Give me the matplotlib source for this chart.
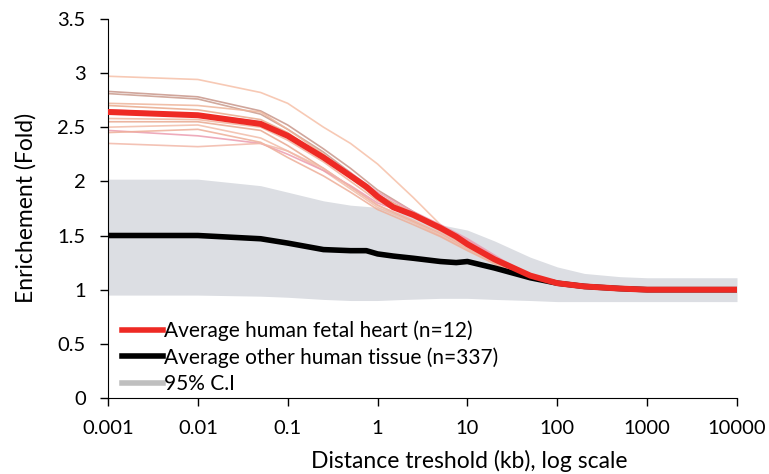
import numpy as np
import matplotlib.pyplot as plt

plt.rcParams['font.family'] = ['Lato', 'DejaVu Sans']

# distance thresholds (kb)
dist = [0.001, 0.01, 0.05, 0.1, 0.25, 0.5, 1, 2.5, 5, 10, 25, 50, 100, 1000, 10000]

# individual fetal heart samples (n=12)
heart_samples = [
    [2.97, 2.94, 2.82, 2.72, 2.50, 2.35, 2.16, 1.85, 1.60, 1.42, 1.23, 1.12, 1.06, 1.00, 1.00],
    [2.83, 2.78, 2.65, 2.52, 2.30, 2.12, 1.92, 1.72, 1.58, 1.44, 1.25, 1.13, 1.06, 1.00, 1.00],
    [2.81, 2.76, 2.62, 2.48, 2.27, 2.08, 1.88, 1.70, 1.57, 1.43, 1.24, 1.12, 1.06, 1.00, 1.00],
    [2.72, 2.70, 2.64, 2.48, 2.25, 2.05, 1.87, 1.71, 1.58, 1.45, 1.25, 1.13, 1.06, 1.00, 1.00],
    [2.70, 2.66, 2.57, 2.45, 2.22, 2.03, 1.84, 1.68, 1.55, 1.40, 1.22, 1.12, 1.06, 1.00, 1.00],
    [2.66, 2.62, 2.55, 2.42, 2.24, 2.08, 1.90, 1.72, 1.60, 1.47, 1.27, 1.14, 1.07, 1.00, 1.00],
    [2.58, 2.57, 2.50, 2.38, 2.18, 2.00, 1.82, 1.67, 1.54, 1.40, 1.23, 1.12, 1.06, 1.00, 1.00],
    [2.55, 2.55, 2.47, 2.33, 2.12, 1.95, 1.78, 1.63, 1.52, 1.38, 1.21, 1.11, 1.05, 1.00, 1.00],
    [2.50, 2.52, 2.40, 2.28, 2.10, 1.93, 1.76, 1.62, 1.50, 1.37, 1.20, 1.10, 1.05, 1.00, 1.00],
    [2.47, 2.42, 2.35, 2.25, 2.10, 1.96, 1.80, 1.68, 1.58, 1.46, 1.26, 1.13, 1.06, 1.00, 1.00],
    [2.45, 2.48, 2.36, 2.22, 2.05, 1.90, 1.74, 1.60, 1.49, 1.36, 1.20, 1.10, 1.05, 1.00, 1.00],
    [2.35, 2.32, 2.35, 2.28, 2.12, 1.95, 1.78, 1.64, 1.52, 1.39, 1.21, 1.11, 1.05, 1.00, 1.00],
]
sample_colors = ['#f6c0a8', '#c8968a', '#c99a8c', '#eeb49a', '#e9a98c', '#eaa0b4',
                 '#f0b49e', '#e8a890', '#f2bca8', '#ec9cb0', '#eeae98', '#f2b8a8']

# averages
avg_dist = [0.001, 0.01, 0.05, 0.1, 0.25, 0.5, 0.75, 1, 1.5, 2.5, 5, 7.5, 10, 20, 50, 100, 200, 500, 1000, 10000]
heart_avg = [2.64, 2.61, 2.53, 2.42, 2.22, 2.05, 1.95, 1.86, 1.76, 1.69, 1.57, 1.49, 1.42, 1.28, 1.13, 1.06, 1.03, 1.01, 1.00, 1.00]
other_avg = [1.50, 1.50, 1.47, 1.43, 1.37, 1.36, 1.36, 1.33, 1.31, 1.29, 1.26, 1.25, 1.26, 1.20, 1.11, 1.06, 1.03, 1.01, 1.00, 1.00]

# 95% confidence interval
ci_dist = [0.001, 0.01, 0.05, 0.1, 0.25, 0.5, 1, 2, 5, 10, 20, 50, 100, 200, 500, 1000, 10000]
ci_upper = [2.02, 2.02, 1.96, 1.90, 1.82, 1.78, 1.76, 1.70, 1.60, 1.55, 1.45, 1.30, 1.21, 1.15, 1.12, 1.11, 1.11]
ci_lower = [0.95, 0.95, 0.94, 0.93, 0.91, 0.90, 0.90, 0.91, 0.92, 0.92, 0.91, 0.90, 0.89, 0.89, 0.89, 0.89, 0.89]

fig = plt.figure(figsize=(7.69, 4.74), dpi=100)
ax = fig.add_axes([0.1404, 0.1603, 0.818, 0.800])

ax.fill_between(ci_dist, ci_lower, ci_upper, color='#dcdee3', lw=0, zorder=1)
for s, c in zip(heart_samples, sample_colors):
    ax.plot(dist, s, color=c, lw=1.2, alpha=0.85, zorder=2)
ax.plot(avg_dist, other_avg, color='black', lw=4.0, zorder=3, solid_capstyle='round')
ax.plot(avg_dist, heart_avg, color='#ee2a24', lw=4.3, zorder=4, solid_capstyle='round')

ax.set_xscale('log')
ax.set_xlim(0.001, 10000)
ax.set_ylim(0, 3.5)
ax.set_xticks([0.001, 0.01, 0.1, 1, 10, 100, 1000, 10000])
ax.set_xticklabels(['0.001', '0.01', '0.1', '1', '10', '100', '1000', '10000'])
ax.minorticks_off()
ax.set_yticks(np.arange(0, 3.51, 0.5))
ax.set_yticklabels(['0', '0.5', '1', '1.5', '2', '2.5', '3', '3.5'])
for sp in ['top', 'right']:
    ax.spines[sp].set_visible(False)
ax.tick_params(labelsize=14.5, length=6, width=1)
ax.tick_params(axis='x', pad=10)
ax.tick_params(axis='y', pad=10)
ax.set_ylabel('Enrichement (Fold)', fontsize=16.5)
ax.set_xlabel('Distance treshold (kb), log scale', fontsize=16.5)
ax.yaxis.set_label_coords(-0.114, 0.5)
ax.xaxis.set_label_coords(0.574, -0.137)

legend_handles = [
    plt.Line2D([], [], color='#ee2a24', lw=4),
    plt.Line2D([], [], color='black', lw=4),
    plt.Line2D([], [], color='#bfbfbf', lw=4),
]
ax.legend(legend_handles,
          ['Average human fetal heart (n=12)', 'Average other human tissue (n=337)', '95% C.I'],
          loc='lower left', bbox_to_anchor=(0.0, -0.025), frameon=False, fontsize=15,
          handlelength=2.0, handletextpad=0.05, labelspacing=0.3, borderaxespad=0.25)

fig.savefig('out.png', dpi=100)
